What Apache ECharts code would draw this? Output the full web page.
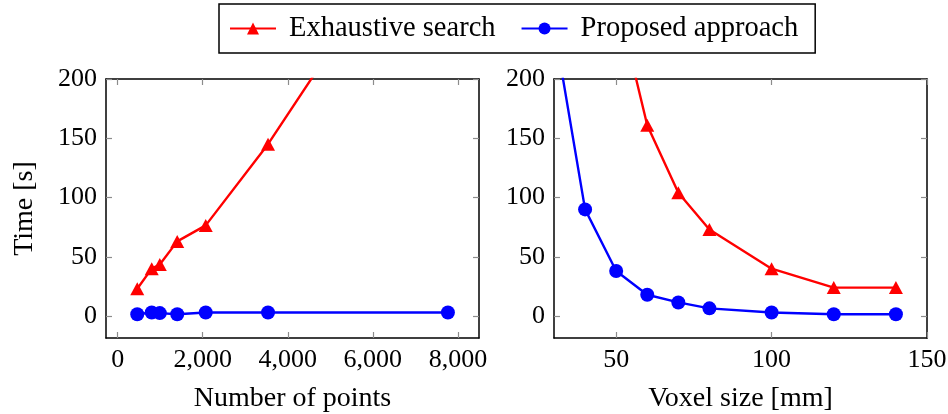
<!DOCTYPE html>
<html><head><meta charset="utf-8">
<script src="https://cdn.jsdelivr.net/npm/echarts@6/dist/echarts.min.js"></script>
<style>html,body{margin:0;padding:0;background:#fff}#c{width:948px;height:414px}</style>
</head><body><div id="c"></div>
<script>
// ---- data ----
const seriesNames = ['Exhaustive search', 'Proposed approach'];
const numPoints = [460, 800, 990, 1400, 2070, 3535, 7765];
const exhaustiveByPoints = [23, 40, 43.5, 63, 76.5, 145, 374];
const proposedByPoints = [1.5, 3, 2.5, 1.5, 3, 3, 3];
const voxelSize = [30, 40, 50, 60, 70, 80, 100, 120, 140];
const exhaustiveByVoxel = [null, null, 270, 161, 104, 73, 40, 24, 24];
const proposedByVoxel = [245, 90, 38, 18, 11.5, 6.5, 3, 1.5, 1.5];
const yTicks = [0, 50, 100, 150, 200];
const xTicksPoints = [0, 2000, 4000, 6000, 8000];
const xTicksVoxel = [50, 100, 150];
const axisTitles = {x1: 'Number of points', x2: 'Voxel size [mm]', y: 'Time [s]'};

const FONT = 'Liberation Serif';
const RED = '#ff0000', BLUE = '#0000ff';
const pairs = (xs, ys) => xs.map((x, i) => [x, ys[i]]).filter(p => p[1] !== null);
const fmt = v => v.toLocaleString('en-US');
const titleStyle = {fontFamily: FONT, fontSize: 28, color: '#000'};

function axisBase(ticks, showLabel) {
  return {
    type: 'value',
    axisLine: {show: true, onZero: false, lineStyle: {color: '#000', width: 1.5}},
    axisTick: {show: true, inside: true, length: 6, customValues: ticks, lineStyle: {color: '#8c8c8c', width: 1.2}},
    axisLabel: {show: showLabel, customValues: ticks, formatter: v => fmt(v), color: '#000',
      fontFamily: FONT, fontSize: 26, margin: 9},
    splitLine: {show: false}
  };
}
const yMin = -18.5, yMax = 200;
const x1Min = -275, x1Max = 8496;
const x2Min = 30, x2Max = 150;

const xAxes = [
  Object.assign(axisBase(xTicksPoints, true), {gridIndex: 0, position: 'bottom', min: x1Min, max: x1Max,
    name: axisTitles.x1, nameLocation: 'middle', nameGap: 47, nameTextStyle: titleStyle}),
  Object.assign(axisBase(xTicksPoints, false), {gridIndex: 0, position: 'top', min: x1Min, max: x1Max}),
  Object.assign(axisBase(xTicksVoxel, true), {gridIndex: 1, position: 'bottom', min: x2Min, max: x2Max,
    name: axisTitles.x2, nameLocation: 'middle', nameGap: 47, nameTextStyle: titleStyle}),
  Object.assign(axisBase(xTicksVoxel, false), {gridIndex: 1, position: 'top', min: x2Min, max: x2Max})
];
const yAxes = [
  Object.assign(axisBase(yTicks, true), {gridIndex: 0, position: 'left', min: yMin, max: yMax,
    name: axisTitles.y, nameLocation: 'middle', nameGap: 67, nameRotate: 90, nameTextStyle: titleStyle}),
  Object.assign(axisBase(yTicks, false), {gridIndex: 0, position: 'right', min: yMin, max: yMax}),
  Object.assign(axisBase(yTicks, true), {gridIndex: 1, position: 'left', min: yMin, max: yMax}),
  Object.assign(axisBase(yTicks, false), {gridIndex: 1, position: 'right', min: yMin, max: yMax})
];

function mk(name, data, xi, yi, color, symbol, size) {
  return {name, type: 'line', data, xAxisIndex: xi, yAxisIndex: yi, clip: true,
    symbol, symbolSize: size, showAllSymbol: true,
    lineStyle: {color, width: 2.4}, itemStyle: {color}, z: 3, animation: false};
}

const chart = echarts.init(document.getElementById('c'), null, {renderer: 'canvas'});
chart.setOption({
  animation: false,
  backgroundColor: '#fff',
  grid: [
    {left: 106, top: 79, width: 373, height: 259, outerBoundsMode: 'none', containLabel: false},
    {left: 554, top: 79, width: 373, height: 259, outerBoundsMode: 'none', containLabel: false}
  ],
  legend: {
    data: seriesNames,
    left: 219, top: 4, orient: 'horizontal',
    itemWidth: 46, itemHeight: 15, itemGap: 25,
    padding: [10, 17, 10, 10],
    borderColor: '#000', borderWidth: 1.5,
    textStyle: {fontFamily: FONT, fontSize: 28.5, color: '#000', padding: [0, 0, 0, 8]}
  },
  xAxis: xAxes,
  yAxis: yAxes,
  series: [
    mk(seriesNames[0], pairs(numPoints, exhaustiveByPoints), 0, 0, RED, 'triangle', [14, 13]),
    mk(seriesNames[1], pairs(numPoints, proposedByPoints), 0, 0, BLUE, 'circle', 14),
    mk(seriesNames[0], pairs(voxelSize, exhaustiveByVoxel), 2, 2, RED, 'triangle', [14, 13]),
    mk(seriesNames[1], pairs(voxelSize, proposedByVoxel), 2, 2, BLUE, 'circle', 14)
  ]
});
</script></body></html>
